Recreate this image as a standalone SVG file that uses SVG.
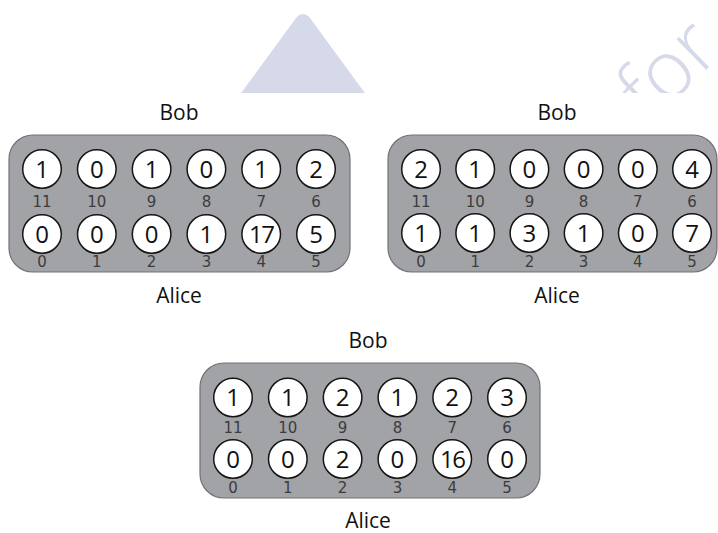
<svg xmlns="http://www.w3.org/2000/svg" width="718" height="533" viewBox="0 0 718 533">
  <style>
    .board { fill: #a2a3a7; stroke: #727275; stroke-width: 1.2; }
    .cup { fill: #ffffff; stroke: #151515; stroke-width: 1.5; }
    .n { font-family: "Open Sans", "Liberation Sans", sans-serif; font-size: 24px; fill: #111; text-anchor: middle; }
    .idx { font-family: "DejaVu Sans", sans-serif; font-size: 15px; fill: #3c3c3c; text-anchor: middle; }
    .who { font-family: "Open Sans", "Liberation Sans", sans-serif; font-size: 21px; fill: #111; text-anchor: middle; }
    .mark { fill: #d6d9e9; }
  </style>
  <defs>
    <clipPath id="topband"><rect x="0" y="0" width="718" height="93"/></clipPath>
  </defs>

  <!-- faint background mark -->
  <g id="backdrop" clip-path="url(#topband)">
    <path class="mark" d="M296 18 Q303 10 310 18 L370 100 L236 100 Z"/>
    <text class="mark" transform="translate(650,124) rotate(-44)" font-family="Open Sans, sans-serif" font-weight="300" font-size="80">for</text>
  </g>

  <!-- board 1 -->
  <g id="board1">
    <text class="who" x="179" y="120">Bob</text>
    <rect class="board" x="9" y="135" width="341" height="137" rx="24"/>
    <g id="b1-11"><circle class="cup" cx="42" cy="169" r="19.3"/><text class="n" x="42" y="177.5">1</text><text class="idx" x="42" y="207">11</text></g>
    <g id="b1-10"><circle class="cup" cx="96.8" cy="169" r="19.3"/><text class="n" x="96.8" y="177.5">0</text><text class="idx" x="96.8" y="207">10</text></g>
    <g id="b1-9"><circle class="cup" cx="151.6" cy="169" r="19.3"/><text class="n" x="151.6" y="177.5">1</text><text class="idx" x="151.6" y="207">9</text></g>
    <g id="b1-8"><circle class="cup" cx="206.4" cy="169" r="19.3"/><text class="n" x="206.4" y="177.5">0</text><text class="idx" x="206.4" y="207">8</text></g>
    <g id="b1-7"><circle class="cup" cx="261.2" cy="169" r="19.3"/><text class="n" x="261.2" y="177.5">1</text><text class="idx" x="261.2" y="207">7</text></g>
    <g id="b1-6"><circle class="cup" cx="316" cy="169" r="19.3"/><text class="n" x="316" y="177.5">2</text><text class="idx" x="316" y="207">6</text></g>
    <g id="b1-0"><circle class="cup" cx="42" cy="234" r="19.3"/><text class="n" x="42" y="242.5">0</text><text class="idx" x="42" y="267">0</text></g>
    <g id="b1-1"><circle class="cup" cx="96.8" cy="234" r="19.3"/><text class="n" x="96.8" y="242.5">0</text><text class="idx" x="96.8" y="267">1</text></g>
    <g id="b1-2"><circle class="cup" cx="151.6" cy="234" r="19.3"/><text class="n" x="151.6" y="242.5">0</text><text class="idx" x="151.6" y="267">2</text></g>
    <g id="b1-3"><circle class="cup" cx="206.4" cy="234" r="19.3"/><text class="n" x="206.4" y="242.5">1</text><text class="idx" x="206.4" y="267">3</text></g>
    <g id="b1-4"><circle class="cup" cx="261.2" cy="234" r="19.3"/><text class="n" x="261.2" y="242.5" letter-spacing="-1.5">17</text><text class="idx" x="261.2" y="267">4</text></g>
    <g id="b1-5"><circle class="cup" cx="316" cy="234" r="19.3"/><text class="n" x="316" y="242.5">5</text><text class="idx" x="316" y="267">5</text></g>
    <text class="who" x="179" y="303">Alice</text>
  </g>

  <!-- board 2 -->
  <g id="board2">
    <text class="who" x="557" y="120">Bob</text>
    <rect class="board" x="388" y="135" width="329" height="137" rx="24"/>
    <g id="b2-11"><circle class="cup" cx="421" cy="169" r="19.3"/><text class="n" x="421" y="177.5">2</text><text class="idx" x="421" y="207">11</text></g>
    <g id="b2-10"><circle class="cup" cx="475.2" cy="169" r="19.3"/><text class="n" x="475.2" y="177.5">1</text><text class="idx" x="475.2" y="207">10</text></g>
    <g id="b2-9"><circle class="cup" cx="529.4" cy="169" r="19.3"/><text class="n" x="529.4" y="177.5">0</text><text class="idx" x="529.4" y="207">9</text></g>
    <g id="b2-8"><circle class="cup" cx="583.6" cy="169" r="19.3"/><text class="n" x="583.6" y="177.5">0</text><text class="idx" x="583.6" y="207">8</text></g>
    <g id="b2-7"><circle class="cup" cx="637.8" cy="169" r="19.3"/><text class="n" x="637.8" y="177.5">0</text><text class="idx" x="637.8" y="207">7</text></g>
    <g id="b2-6"><circle class="cup" cx="692" cy="169" r="19.3"/><text class="n" x="692" y="177.5">4</text><text class="idx" x="692" y="207">6</text></g>
    <g id="b2-0"><circle class="cup" cx="421" cy="233" r="19.3"/><text class="n" x="421" y="241.5">1</text><text class="idx" x="421" y="267">0</text></g>
    <g id="b2-1"><circle class="cup" cx="475.2" cy="233" r="19.3"/><text class="n" x="475.2" y="241.5">1</text><text class="idx" x="475.2" y="267">1</text></g>
    <g id="b2-2"><circle class="cup" cx="529.4" cy="233" r="19.3"/><text class="n" x="529.4" y="241.5">3</text><text class="idx" x="529.4" y="267">2</text></g>
    <g id="b2-3"><circle class="cup" cx="583.6" cy="233" r="19.3"/><text class="n" x="583.6" y="241.5">1</text><text class="idx" x="583.6" y="267">3</text></g>
    <g id="b2-4"><circle class="cup" cx="637.8" cy="233" r="19.3"/><text class="n" x="637.8" y="241.5">0</text><text class="idx" x="637.8" y="267">4</text></g>
    <g id="b2-5"><circle class="cup" cx="692" cy="233" r="19.3"/><text class="n" x="692" y="241.5">7</text><text class="idx" x="692" y="267">5</text></g>
    <text class="who" x="557" y="303">Alice</text>
  </g>

  <!-- board 3 -->
  <g id="board3">
    <text class="who" x="368" y="348">Bob</text>
    <rect class="board" x="200" y="363" width="340" height="135" rx="24"/>
    <g id="b3-11"><circle class="cup" cx="233" cy="397.5" r="19.3"/><text class="n" x="233" y="406">1</text><text class="idx" x="233" y="433">11</text></g>
    <g id="b3-10"><circle class="cup" cx="287.8" cy="397.5" r="19.3"/><text class="n" x="287.8" y="406">1</text><text class="idx" x="287.8" y="433">10</text></g>
    <g id="b3-9"><circle class="cup" cx="342.6" cy="397.5" r="19.3"/><text class="n" x="342.6" y="406">2</text><text class="idx" x="342.6" y="433">9</text></g>
    <g id="b3-8"><circle class="cup" cx="397.4" cy="397.5" r="19.3"/><text class="n" x="397.4" y="406">1</text><text class="idx" x="397.4" y="433">8</text></g>
    <g id="b3-7"><circle class="cup" cx="452.2" cy="397.5" r="19.3"/><text class="n" x="452.2" y="406">2</text><text class="idx" x="452.2" y="433">7</text></g>
    <g id="b3-6"><circle class="cup" cx="507" cy="397.5" r="19.3"/><text class="n" x="507" y="406">3</text><text class="idx" x="507" y="433">6</text></g>
    <g id="b3-0"><circle class="cup" cx="233" cy="459" r="19.3"/><text class="n" x="233" y="467.5">0</text><text class="idx" x="233" y="493">0</text></g>
    <g id="b3-1"><circle class="cup" cx="287.8" cy="459" r="19.3"/><text class="n" x="287.8" y="467.5">0</text><text class="idx" x="287.8" y="493">1</text></g>
    <g id="b3-2"><circle class="cup" cx="342.6" cy="459" r="19.3"/><text class="n" x="342.6" y="467.5">2</text><text class="idx" x="342.6" y="493">2</text></g>
    <g id="b3-3"><circle class="cup" cx="397.4" cy="459" r="19.3"/><text class="n" x="397.4" y="467.5">0</text><text class="idx" x="397.4" y="493">3</text></g>
    <g id="b3-4"><circle class="cup" cx="452.2" cy="459" r="19.3"/><text class="n" x="452.2" y="467.5" letter-spacing="-1.5">16</text><text class="idx" x="452.2" y="493">4</text></g>
    <g id="b3-5"><circle class="cup" cx="507" cy="459" r="19.3"/><text class="n" x="507" y="467.5">0</text><text class="idx" x="507" y="493">5</text></g>
    <text class="who" x="368" y="528">Alice</text>
  </g>
</svg>
